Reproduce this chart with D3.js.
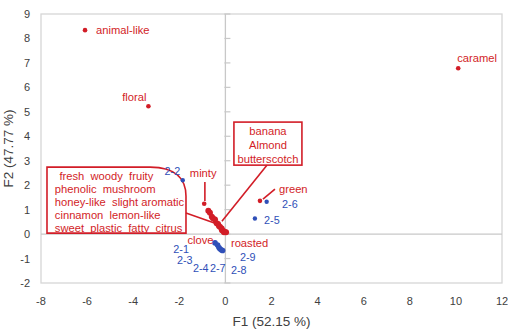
<!DOCTYPE html>
<html><head><meta charset="utf-8">
<script src="https://cdn.jsdelivr.net/npm/d3@7"></script>
<style>
body{margin:0;background:#fff;}
text{font-family:"Liberation Sans",Arial,sans-serif;}
</style></head>
<body><svg id="c" width="508" height="329"></svg>
<script>
// ---- data ----
const xTicks = [-8,-6,-4,-2,0,2,4,6,8,10,12];
const yTicks = [-2,-1,0,1,2,3,4,5,6,7,8,9];
const xTitle = "F1 (52.15 %)";
const yTitle = "F2 (47.77 %)";

// isolated attribute points (red)
const attrNames = ["animal-like","floral","caramel","green","minty"];
const attrX = [-6.09,-3.34,10.10,1.50,-0.92];
const attrY = [8.34,5.23,6.78,1.36,1.24];

// clustered attribute points near origin (red)
const clusterX = [-0.74,-0.67,-0.59,-0.54,-0.45,-0.38,-0.32,-0.28,-0.23,-0.16,-0.15,-0.09,-0.06,-0.02,0.03];
const clusterY = [0.95,0.87,0.71,0.65,0.60,0.44,0.41,0.33,0.29,0.23,0.16,0.13,0.08,0.09,0.08];

// samples (blue)
const sampleNames = ["2-2","2-6","2-5","2-1","2-3","2-4","2-7","2-8","2-9"];
const sampleX = [-1.85,1.79,1.28,-0.45,-0.34,-0.28,-0.23,-0.17,-0.12];
const sampleY = [2.20,1.32,0.64,-0.36,-0.45,-0.55,-0.61,-0.65,-0.67];

const boxLines = ["fresh  woody  fruity","phenolic  mushroom","honey-like  slight aromatic","cinnamon  lemon-like","sweet  plastic  fatty  citrus"];
const bananaLines = ["banana","Almond","butterscotch"];

// ---- layout ----
const W=508,H=329;
const m={l:41,r:6,t:14,b:46};
const svg=d3.select("#c");
const x=d3.scaleLinear().domain([-8,12]).range([m.l,W-m.r]);
const y=d3.scaleLinear().domain([-2,9]).range([H-m.b,m.t]);
const RED="#d21d27", BLUE="#2f4fb8", GRAY="#c8c8c8";

// plot border
svg.append("rect").attr("x",x(-8)).attr("y",y(9)).attr("width",x(12)-x(-8)).attr("height",y(-2)-y(9))
  .attr("fill","none").attr("stroke","#d6d6d6").attr("stroke-width",1.3);

// zero lines
svg.append("line").attr("x1",x(-8)).attr("x2",x(12)).attr("y1",y(0)).attr("y2",y(0)).attr("stroke",GRAY).attr("stroke-width",1.3);
svg.append("line").attr("x1",x(0)).attr("x2",x(0)).attr("y1",y(-2)).attr("y2",y(9)).attr("stroke",GRAY).attr("stroke-width",1.3);
// tick marks on vertical zero axis
svg.selectAll(".yt").data(yTicks).enter().append("line")
  .attr("x1",x(0)-1).attr("x2",x(0)+5).attr("y1",d=>y(d)).attr("y2",d=>y(d)).attr("stroke",GRAY).attr("stroke-width",1.2);

// tick labels
svg.selectAll(".xl").data(xTicks).enter().append("text")
  .attr("x",d=>x(d)).attr("y",305).attr("text-anchor","middle").attr("font-size",11).attr("fill","#404040").text(d=>d);
svg.selectAll(".yl").data(yTicks).enter().append("text")
  .attr("x",30).attr("y",d=>y(d)+4).attr("text-anchor","end").attr("font-size",11).attr("fill","#404040").text(d=>d);

// titles
svg.append("text").attr("x",(x(-8)+x(12))/2).attr("y",326).attr("text-anchor","middle").attr("font-size",13.5).attr("fill","#404040").text(xTitle);
svg.append("text").attr("transform",`translate(13,${(y(9)+y(-2))/2}) rotate(-90)`).attr("text-anchor","middle").attr("font-size",13.5).attr("fill","#404040").text(yTitle);

// annotation helpers (in data units)
function seg(x1,y1,x2,y2,w){svg.append("line").attr("x1",x(x1)).attr("y1",y(y1)).attr("x2",x(x2)).attr("y2",y(y2)).attr("stroke",RED).attr("stroke-width",w||1.6);}

// left rounded box
const bl=-7.74,br=-1.71,bt=2.74,bb=0.04,bc=-3.27,bcy=1.55;
svg.append("path").attr("d",`M${x(bl)},${y(bt)} H${x(bc)} C${x(-2.1)},${y(bt)} ${x(br)},${y(2.2)} ${x(br)},${y(bcy)} V${y(bb)} H${x(bl)} Z`)
  .attr("fill","none").attr("stroke",RED).attr("stroke-width",1.6);
seg(br,0.86,-0.2,0.36);
const lineX=[-7.2,-7.4,-7.4,-7.4,-7.4];
svg.append("g").selectAll("text").data(boxLines).enter().append("text")
  .attr("x",(d,i)=>x(lineX[i])).attr("y",(d,i)=>y(bt)+12.5+i*13.2)
  .attr("font-size",11.2).attr("fill",RED).style("white-space","pre").text(d=>d);

// banana box
const nl=0.37,nr=3.32,nt=4.58,nb=2.82;
svg.append("rect").attr("x",x(nl)).attr("y",y(nt)).attr("width",x(nr)-x(nl)).attr("height",y(nb)-y(nt))
  .attr("fill","#fff").attr("stroke",RED).attr("stroke-width",1.6);
svg.append("g").selectAll("text").data(bananaLines).enter().append("text")
  .attr("x",(x(nl)+x(nr))/2).attr("y",(d,i)=>y(nt)+13+i*14.2).attr("text-anchor","middle")
  .attr("font-size",11.2).attr("fill",RED).text(d=>d);
seg(1.80,nb,-0.15,0.53);

// leaders
seg(1.63,1.43,2.15,1.84);     // green
seg(-0.89,2.13,-0.89,1.35);   // minty

// points
svg.append("g").selectAll("circle").data(clusterX).enter().append("circle")
  .attr("cx",d=>x(d)).attr("cy",(d,i)=>y(clusterY[i])).attr("r",3).attr("fill",RED);
svg.append("g").selectAll("circle").data(attrX).enter().append("circle")
  .attr("cx",d=>x(d)).attr("cy",(d,i)=>y(attrY[i])).attr("r",2.3).attr("fill",RED);
svg.append("g").selectAll("circle").data(sampleX).enter().append("circle")
  .attr("cx",d=>x(d)).attr("cy",(d,i)=>y(sampleY[i])).attr("r",(d,i)=>i<3?2.2:2.8).attr("fill",BLUE);

// attribute labels (pixel offsets from their points)
const attrDx=[11,-2,-1,19,-1], attrDy=[4,-5,-6,-8,-27], attrAnchor=["start","end","start","start","middle"];
svg.append("g").selectAll("text").data(attrNames).enter().append("text")
  .attr("x",(d,i)=>x(attrX[i])+attrDx[i]).attr("y",(d,i)=>y(attrY[i])+attrDy[i])
  .attr("text-anchor",(d,i)=>attrAnchor[i]).attr("font-size",11.2).attr("fill",RED).text(d=>d);

// cluster labels placed in data units
const redLblText=["clove","roasted"], redLblX=[-1.08,0.24], redLblY=[-0.40,-0.53], redAnchor=["middle","start"];
svg.append("g").selectAll("text").data(redLblText).enter().append("text")
  .attr("x",(d,i)=>x(redLblX[i])).attr("y",(d,i)=>y(redLblY[i])).attr("text-anchor",(d,i)=>redAnchor[i])
  .attr("font-size",11.2).attr("fill",RED).text(d=>d);

// sample labels (data-unit anchors)
const sLblX=[-1.96,2.46,1.68,-2.26,-2.10,-1.41,-0.67,0.24,0.63];
const sLblY=[2.40,1.06,0.40,-0.79,-1.24,-1.57,-1.57,-1.62,-1.10];
const sAnchor=["end","start","start","start","start","start","start","start","start"];
svg.append("g").selectAll("text").data(sampleNames).enter().append("text")
  .attr("x",(d,i)=>x(sLblX[i])).attr("y",(d,i)=>y(sLblY[i])).attr("text-anchor",(d,i)=>sAnchor[i])
  .attr("font-size",10.8).attr("fill",BLUE).text(d=>d);
</script></body></html>
